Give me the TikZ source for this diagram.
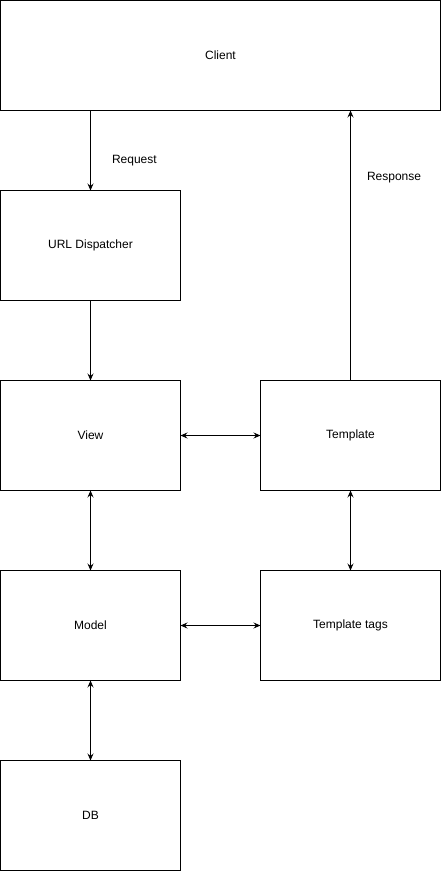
\documentclass[tikz,border=0pt]{standalone}
\usepackage{fontspec}
\setmainfont{Liberation Sans}
\usetikzlibrary{arrows.meta}
\begin{document}
\begin{tikzpicture}[x=1pt,y=-1pt,
  box/.style={draw=black,line width=1pt,fill=white,inner sep=0pt,outer sep=0pt,anchor=north west,
    minimum width=180pt,minimum height=110pt,font=\fontsize{12}{14}\selectfont},
  tip/.style={Stealth[length=7pt,width=6pt,inset=2.5pt]},
  link/.style={line width=1pt,-{Stealth[length=7pt,width=6pt,inset=2.5pt]}},
  both/.style={line width=1pt,{Stealth[length=7pt,width=6pt,inset=2.5pt]}-{Stealth[length=7pt,width=6pt,inset=2.5pt]}},
  lbl/.style={font=\fontsize{12}{14}\selectfont,inner sep=0pt}]
\useasboundingbox (0,0) rectangle (442,872);
\node[box,minimum width=440pt] (client) at (0.5,0.5) {Client};
\node[box] (disp) at (0.5,190.5) {URL Dispatcher};
\node[box] (view) at (0.5,380.5) {View};
\node[box] (tmpl) at (260.5,380.5) {Template};
\node[box] (model) at (0.5,570.5) {Model};
\node[box] (tags) at (260.5,570.5) {Template tags};
\node[box] (db) at (0.5,760.5) {DB};
% request / response flow
\draw[link] (client.south -| disp.north) -- (disp.north) node[lbl,pos=0.63,right=21pt] {Request};
\draw[link] (tmpl.north) -- (tmpl.north |- client.south) node[lbl,pos=0.75,right=16pt] {Response};
\draw[link] (disp.south) -- (view.north);
% two-way links
\draw[both] (view.east) -- (tmpl.west);
\draw[both] (view.south) -- (model.north);
\draw[both] (tmpl.south) -- (tags.north);
\draw[both] (model.east) -- (tags.west);
\draw[both] (model.south) -- (db.north);
\end{tikzpicture}
\end{document}
